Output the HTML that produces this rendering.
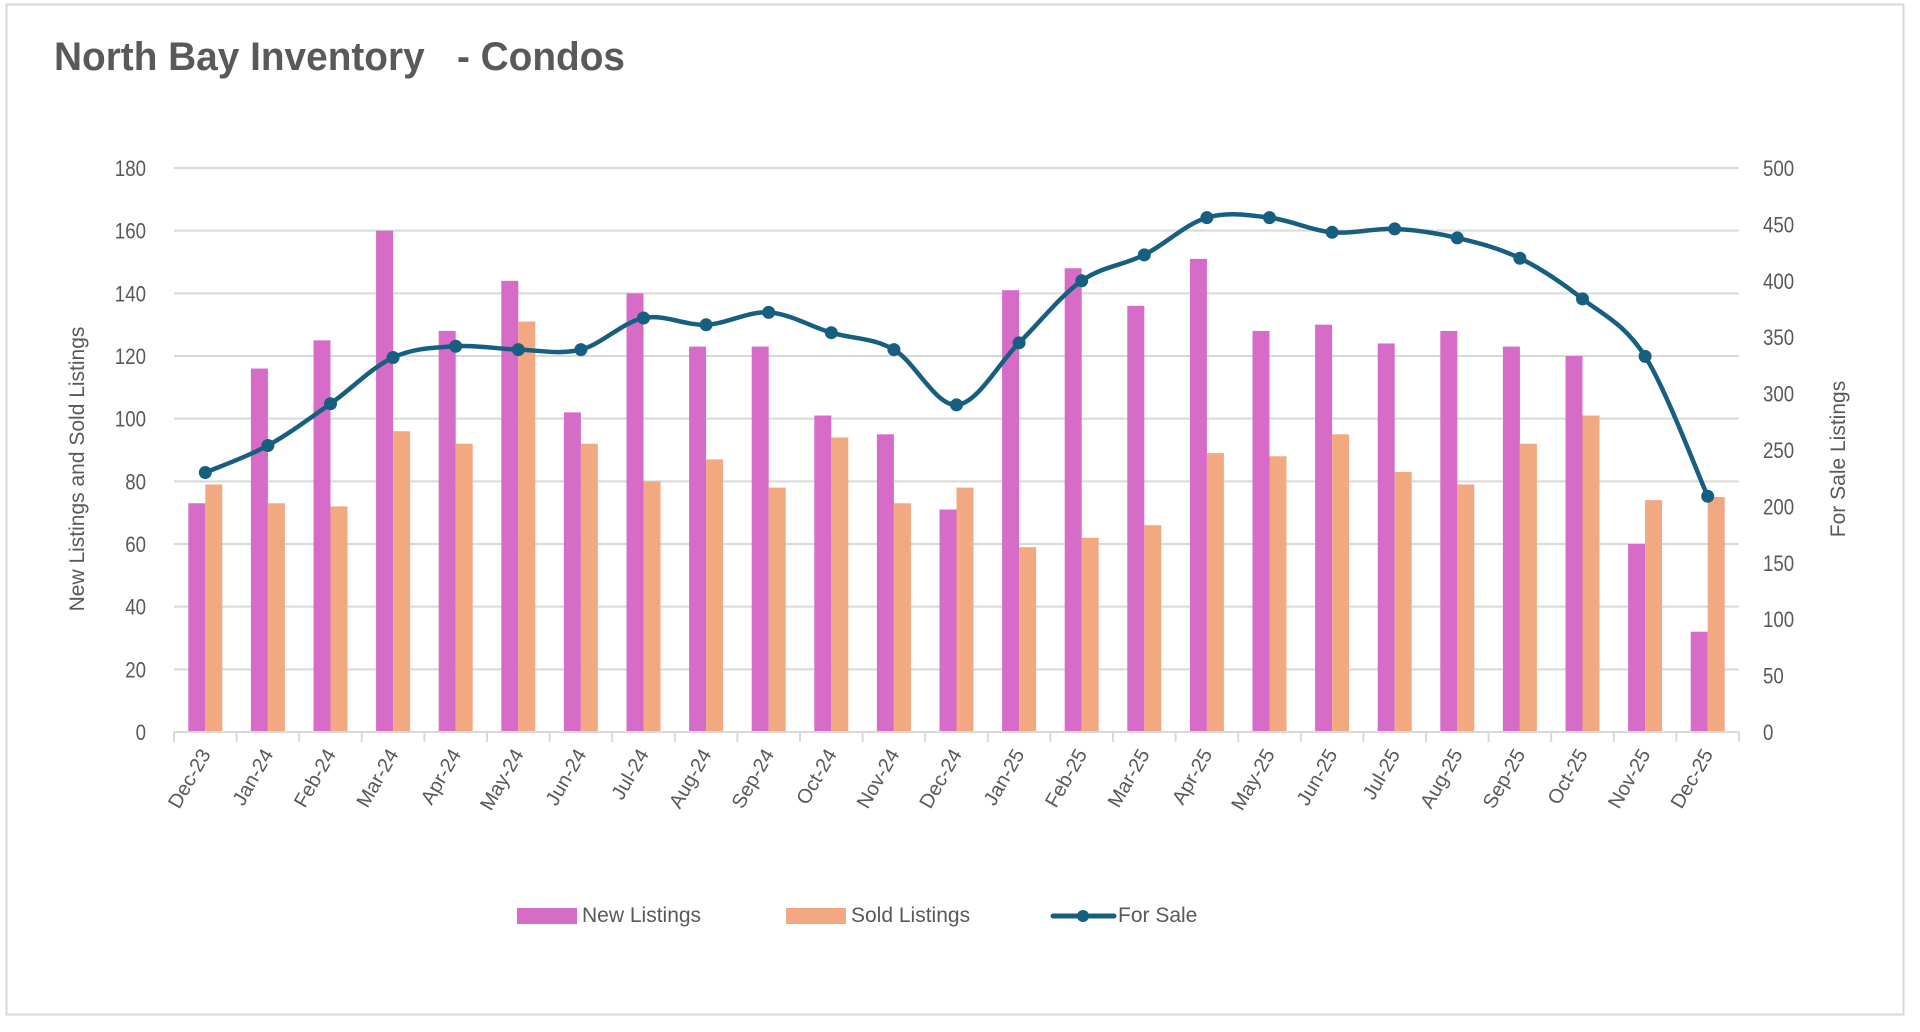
<!DOCTYPE html>
<html><head><meta charset="utf-8"><style>
html,body{margin:0;padding:0;background:#fff;}
body{width:1920px;height:1027px;overflow:hidden;position:relative;font-family:"Liberation Sans",sans-serif;}
</style></head><body>
<svg id="chart" width="1920" height="1027" viewBox="0 0 1920 1027" xmlns="http://www.w3.org/2000/svg">
<rect x="6.5" y="4.5" width="1897" height="1010" fill="#fff" stroke="#d9d9d9" stroke-width="2"/>
<text x="54" y="70" font-size="40" font-weight="bold" fill="#595959" textLength="571" lengthAdjust="spacingAndGlyphs" xml:space="preserve">North Bay Inventory   - Condos</text>
<g id="grid"></g><g id="bars"></g><g id="line"></g><g id="axes"></g>
<text transform="translate(84,469) rotate(-90)" text-anchor="middle" font-size="21" fill="#595959">New Listings and Sold Listings</text>
<text transform="translate(1845,459) rotate(-90)" text-anchor="middle" font-size="21" fill="#595959">For Sale Listings</text>
<g>
<rect x="517" y="908" width="60" height="16" fill="#d76cc8"/>
<text x="582" y="922" font-size="21" fill="#595959">New Listings</text>
<rect x="786" y="908" width="60" height="16" fill="#f2a982"/>
<text x="851" y="922" font-size="21" fill="#595959">Sold Listings</text>
<line x1="1053" y1="916" x2="1114" y2="916" stroke="#175f80" stroke-width="5" stroke-linecap="round"/>
<circle cx="1083" cy="916" r="6" fill="#175f80"/>
<text x="1118" y="922" font-size="21" fill="#595959">For Sale</text>
</g>
</svg>
<script>
const categories=["Dec-23","Jan-24","Feb-24","Mar-24","Apr-24","May-24","Jun-24","Jul-24","Aug-24","Sep-24","Oct-24","Nov-24","Dec-24","Jan-25","Feb-25","Mar-25","Apr-25","May-25","Jun-25","Jul-25","Aug-25","Sep-25","Oct-25","Nov-25","Dec-25"];
const newListings=[73,116,125,160,128,144,102,140,123,123,101,95,71,141,148,136,151,128,130,124,128,123,120,60,32];
const soldListings=[79,73,72,96,92,131,92,80,87,78,94,73,78,59,62,66,89,88,95,83,79,92,101,74,75];
const forSale=[230,254,291,332,342,339,339,367,361,372,354,339,290,345,400,423,456,456,443,446,438,420,384,333,209];
const leftTicks=[0,20,40,60,80,100,120,140,160,180];
const rightTicks=[0,50,100,150,200,250,300,350,400,450,500];

const NS="http://www.w3.org/2000/svg";
const X0=174,X1=1739,Y0=732,Y1=168;
const n=categories.length,cw=(X1-X0)/n,bw=17;
const yL=v=>Y0-(v/180)*(Y0-Y1);
const yR=v=>Y0-(v/500)*(Y0-Y1);
const xC=i=>X0+cw*(i+0.5);
function mk(tag,attrs,parent){const e=document.createElementNS(NS,tag);for(const k in attrs)e.setAttribute(k,attrs[k]);parent.appendChild(e);return e;}
const grid=document.getElementById('grid'),bars=document.getElementById('bars'),line=document.getElementById('line'),axes=document.getElementById('axes');

leftTicks.forEach(v=>{
  const y=yL(v);
  if(v>0){const g=mk('line',{x1:X0,x2:X1,y1:y,y2:y,stroke:'#d9d9d9','stroke-width':2},grid);
  
  }
  const t=mk('text',{transform:`translate(146,${y+8}) scale(0.85,1)`,'text-anchor':'end','font-size':22,fill:'#595959'},axes);
  t.textContent=v;
  
  
});
rightTicks.forEach(v=>{
  const t=mk('text',{transform:`translate(1763,${yR(v)+8}) scale(0.85,1)`,'font-size':22,fill:'#595959'},axes);
  t.textContent=v;
  
  
});
const ax=mk('line',{x1:X0,x2:X1,y1:Y0,y2:Y0,stroke:'#d9d9d9','stroke-width':2},axes);


for(let i=0;i<=n;i++){
  const x=X0+cw*i;
  const tk=mk('line',{x1:x,x2:x,y1:Y0,y2:Y0+10,stroke:'#d9d9d9','stroke-width':2},axes);
  
  
}
categories.forEach((c,i)=>{
  const cx=xC(i);
  const b1=mk('rect',{x:cx-bw,y:yL(newListings[i]),width:bw,height:Y0-yL(newListings[i]),fill:'#d76cc8'},bars);
  
  
  const b2=mk('rect',{x:cx,y:yL(soldListings[i]),width:bw,height:Y0-yL(soldListings[i]),fill:'#f2a982'},bars);
  
  
  const t=mk('text',{transform:`translate(${cx+6},${Y0+22}) rotate(-60)`,'text-anchor':'end','font-size':20,fill:'#595959'},axes);
  t.textContent=c;
  
  
});
const pts=forSale.map((v,i)=>[xC(i),yR(v)]);
let d=`M${pts[0][0]},${pts[0][1]}`;
for(let i=0;i<pts.length-1;i++){
  const p0=pts[Math.max(0,i-1)],p1=pts[i],p2=pts[i+1],p3=pts[Math.min(pts.length-1,i+2)];
  const t=6;
  d+=` C${p1[0]+(p2[0]-p0[0])/t},${p1[1]+(p2[1]-p0[1])/t} ${p2[0]-(p3[0]-p1[0])/t},${p2[1]-(p3[1]-p1[1])/t} ${p2[0]},${p2[1]}`;
}
const path=mk('path',{d:d,fill:'none',stroke:'#175f80','stroke-width':4.5,'stroke-linejoin':'round'},line);


pts.forEach((p,i)=>{
  const c=mk('circle',{cx:p[0],cy:p[1],r:6.5,fill:'#175f80'},line);
  
  
});
</script>
</body></html>
